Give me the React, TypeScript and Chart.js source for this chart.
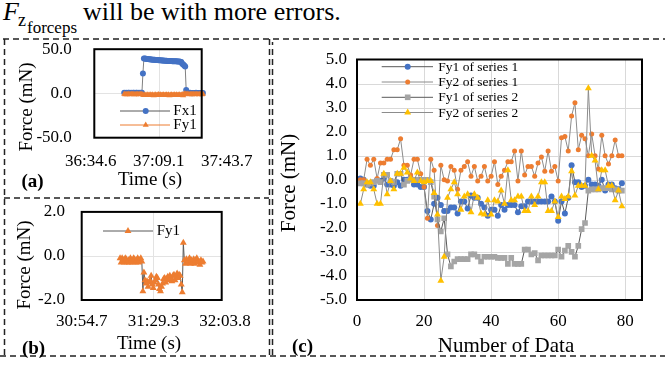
import React, { useEffect, useRef } from 'react';
import { Chart, registerables } from 'chart.js';

Chart.register(...registerables);

const SERIF = "'Liberation Serif', 'Times New Roman', serif";

// ---------------- panel (a) data ----------------
const A_X_TICKS = ['36:34.6', '37:09.1', '37:43.7'];
const A_Y_TICKS = [-50, 0, 50];
const A_FIRST_SAMPLE = '36:51.6';
const A_SAMPLE_PERIOD = 0.5;
const A_LABELS = ['Fx1', 'Fy1'];
const A_FX1 = [
  0.9, 0.6, 0.8, 0.5, 0.7, 0.9, 0.6, 0.8, 0.5, 0.7, 0.8, 0.6, 0.9, 0.7, 0.5, 0.8, 0.6, 0.7, 0.8,
  22.5,
  39.5, 39.6, 39.2, 39.0, 38.9, 38.7, 38.6, 38.4, 38.5, 38.2, 38.1, 38.0, 37.9, 37.8, 37.8, 37.6,
  37.5, 37.5, 37.3, 37.2, 37.2, 37.0, 37.0, 36.9, 36.8, 36.8, 36.7, 36.6, 36.6, 36.5, 36.5, 36.4,
  36.3, 36.3, 36.2, 36.2, 36.0, 35.8, 35.5, 33.5, 32.8, 31.5, 30.5,
  4.0, 1.2,
  0.6, 0.4, 0.7, 0.5, 0.3, 0.6, 0.5, 0.4, 0.7, 0.5, 0.6, 0.4, 0.5, 0.3, 0.6, 0.5,
];
const A_FY1 = [
  -0.6, -1.1, -0.8, -1.3, -0.5, -0.9, -1.2, -0.7, -1.0, -0.6,
  -1.3, -0.8, -1.1, -0.5, -0.9, -1.2, -0.7, -1.0, -0.8, -1.4,
  -1.9, -1.6, -2.1, -1.8, -1.5, -2.0, -1.7, -1.4, -1.9, -1.6,
  -2.2, -1.8, -1.5, -2.0, -1.7, -1.3, -1.9, -1.6, -2.1, -1.8,
  -1.4, -2.0, -1.7, -1.5, -1.9, -1.6, -2.2, -1.8, -1.5, -2.0,
  -1.7, -1.4, -1.9, -1.6, -2.0, -1.8, -1.5, -1.9, -1.7, -1.3,
  -2.4, -0.4, -0.7, -1.0, -0.6, -0.9, -1.2, -0.8, -0.5, -1.1,
  -0.7, -0.9, -1.3, -0.6, -1.0, -0.8, -1.2, -0.5, -0.9, -1.1,
  -0.7,
];

// ---------------- panel (b) data ----------------
const B_X_TICKS = ['30:54.7', '31:29.3', '32:03.8'];
const B_Y_TICKS = [-2, 0, 2];
const B_FIRST_SAMPLE = '31:13.2';
const B_SAMPLE_PERIOD = 0.5;
const B_LABELS = ['Fy1'];
const B_FY1 = [
  -0.1, -0.3, -0.1, -0.2, -0.3, -0.1, -0.15, -0.3, -0.2, -0.3, -0.1, -0.2, -0.3, -0.1, -0.15,
  -0.3, -0.2, -0.1, -0.3, -0.2, -0.1, -0.25,
  -1.6, -0.75, -1.1, -1.25, -1.15, -1.4, -1.2, -1.1, -0.9, -1.3, -1.45, -1.2, -1.1, -0.95, -1.0,
  -1.3, -1.5, -1.6, -1.4, -1.25, -1.05, -1.0, -1.2, -1.05, -0.95, -1.1, -0.9, -1.0, -1.15, -0.9,
  -0.85, -1.1, -0.95, -0.8, -1.0, -0.85, -0.9, -1.3,
  -1.65, 0.6,
  -0.2, -0.35, -0.15, -0.3, -0.2, -0.1, -0.35, -0.2, -0.3, -0.15, -0.35, -0.2, -0.1, -0.3, -0.25,
  -0.4, -0.2, -0.3, -0.25,
];

// ---------------- panel (c) data ----------------
const C_X_TICKS = [0, 20, 40, 60, 80];
const C_X_MAX = 85;
const C_Y_TICKS = [-5, -4, -3, -2, -1, 0, 1, 2, 3, 4, 5];
const C_LABELS = ['Fy1 of series 1', 'Fy2 of series 1', 'Fy1 of series 2', 'Fy2 of series 2'];
const C_FY1_S1 = [
  0.05, 0.0, -0.2, -0.25, -0.25, 0.0, -0.05, 0.05, -0.2, -0.2,
  -0.25, -0.1, -0.25, 0.0, 0.0, 0.05, -0.2, -0.2, -0.3, -0.3,
  -1.3, -1.65, -1.0, -0.75, -1.05, -1.3, -1.3, -1.15, -1.15, -1.4,
  -0.9, -0.9, -1.2, -0.65, -0.75, -0.75, -1.0, -1.15, -1.5, -1.25,
  -1.25, -1.5, -1.05, -1.25, -1.05, -1.05, -1.05, -1.35, -1.1, -1.1,
  -0.9, -0.9, -0.9, -0.9, -0.9, -0.9, -0.9, -0.7, -0.9, -1.7,
  -0.9, -1.4, -0.75, 0.6, -0.1, -0.1, -0.3, -0.25, 0.0, -0.2,
  -0.2, -0.25, 0.0, -0.45, -0.2, -0.2, -0.35, -0.4, -0.15,
];
const C_FY2_S1 = [
  0.0, 0.0, 0.85, 0.6, 0.85, 0.05, 0.7, 0.7, 0.85, 0.85,
  1.25, 1.25, 1.7, 0.6, 0.6, 0.2, 0.85, 0.85, 0.25, -0.3,
  -1.6, 0.85, 0.4, -1.9, 0.6, 0.0, -0.05, 0.55, 0.4, -0.4,
  0.4, 0.55, 0.75, 0.15, 0.55, -0.05, 0.15, 0.55, -0.05, 0.15,
  0.75, -0.2, 0.15, 0.4, 0.75, 0.75, 1.2, -0.05, 1.2, 0.2,
  0.55, 0.55, 0.15, 0.7, 0.95, 0.35, 1.2, 0.35, 0.55, -0.05,
  1.75, 1.8, 1.2, 2.65, 3.2, 1.25, 1.85, 1.7, 1.0, 1.9,
  1.0, 0.45, 1.85, 1.0, 0.65, 1.0, 1.65, 1.0, 1.0,
];
const C_FY1_S2 = [
  -0.15, -0.15, -0.2, -0.15, -0.1, -0.05, -0.1, 0.2, 0.2, -0.05,
  -0.1, 0.25, 0.25, -0.2, -0.05, 0.0, 0.0, 0.0, 0.0, 0.0,
  0.0, -0.1, -0.7, -1.65, -2.15, -1.6, -3.1, -3.6, -3.4, -3.3,
  -3.3, -3.3, -3.3, -3.1, -3.1, -3.2, -3.4, -3.2, -3.2, -3.2,
  -3.2, -3.25, -3.25, -3.25, -3.5, -3.25, -3.5, -3.5, -3.5, -2.9,
  -2.9, -3.1, -3.05, -3.35, -3.15, -3.15, -3.15, -3.15, -3.15, -2.9,
  -3.2, -2.95, -2.75, -3.0, -3.2, -2.75, -2.05, -1.8, -0.45, -0.4,
  -0.4, -0.4, -0.35, -0.35, -0.35, -0.4, -0.4, -0.45, -0.45,
];
const C_FY2_S2 = [
  -1.0, -0.4, -0.1, -0.1, -0.4, -1.0, -1.0, 0.25, -0.6, -0.05,
  -0.4, 0.25, 0.25, 0.5, 0.3, 0.05, -0.05, 0.3, -0.05, -0.1,
  -0.05, -0.05, -0.55, -1.45, -4.2, -3.2, -0.75, -0.4, -0.1, -0.6,
  -1.25, -0.7, -0.6, -1.35, -0.6, -0.75, -1.4, -1.45, -0.85, -1.45,
  -0.85, -0.9, -0.45, -1.0, 0.4, -0.85, -0.85, -0.7, -0.7, -1.3,
  -1.3, -0.7, -1.05, -0.7, -0.1, -0.1, -1.3, -1.3, -0.9, -1.55,
  -0.7, -0.8, -0.7, 0.35, -0.65, -0.25, -0.25, -0.25, 3.8, 1.0,
  0.8, -0.4, 0.4, 0.4, -0.25, -0.25, -0.85, -0.45, -1.1,
];

// ---------------- colours ----------------
const BLUE = '#4472C4';
const ORANGE = '#ED7D31';
const GRAY = '#A5A5A5';
const YELLOW = '#FFC000';
const DARK_LINE = '#595959';
const MID_LINE = '#8c8c8c';

// ---------------- helpers ----------------
const toSec = (s: string) => {
  const [m, r] = s.split(':');
  return Number(m) * 60 + Number(r);
};
const fmtTime = (v: number) => {
  const m = Math.floor((v + 1e-6) / 60);
  const s = v - m * 60;
  return `${m}:${s.toFixed(1).padStart(4, '0')}`;
};
const timeSeries = (first: string, period: number, ys: number[]) =>
  ys.map((y, i) => ({ x: toSec(first) + i * period, y }));
const indexSeries = (ys: number[]) => ys.map((y, i) => ({ x: i + 1, y }));

type Style = 'circle' | 'triangle' | 'rect';
interface LegendItem { label: string; line: string; style: Style; color: string; radius: number; }
interface LegendSpec { rows: number[]; lineFrom: number; lineTo: number; marker: number; text: number; size: number; items: LegendItem[]; }
interface Box { left: number; top: number; width: number; height: number; }
interface Plot { l: number; t: number; r: number; b: number; }

function drawMarker(ctx: CanvasRenderingContext2D, style: Style, x: number, y: number, r: number, color: string) {
  ctx.fillStyle = color;
  ctx.beginPath();
  if (style === 'circle') {
    ctx.arc(x, y, r, 0, Math.PI * 2);
  } else if (style === 'triangle') {
    const a = (2 * Math.PI) / 3;
    ctx.moveTo(x, y - r);
    ctx.lineTo(x + r * Math.sin(a), y - r * Math.cos(a));
    ctx.lineTo(x + r * Math.sin(2 * a), y - r * Math.cos(2 * a));
    ctx.closePath();
  } else {
    const s = r * Math.SQRT1_2;
    ctx.rect(x - s, y - s, 2 * s, 2 * s);
  }
  ctx.fill();
}

function makeFrame(origin: Box, frame: { boxPx?: [number, number]; gridX: number[]; gridY: number[]; gridColor: string; legend: LegendSpec }) {
  const bounds = (chart: any) => {
    const a = chart.chartArea;
    const l = frame.boxPx ? frame.boxPx[0] - origin.left : a.left;
    const r = frame.boxPx ? frame.boxPx[1] - origin.left : a.right;
    return { l, r, t: a.top, b: a.bottom };
  };
  return {
    id: 'frame',
    beforeDatasetsDraw(chart: any) {
      const ctx: CanvasRenderingContext2D = chart.ctx;
      const { l, r, t, b } = bounds(chart);
      const xs = chart.scales.x;
      const ys = chart.scales.y;
      ctx.save();
      ctx.strokeStyle = frame.gridColor;
      ctx.lineWidth = 1;
      ctx.beginPath();
      for (const v of frame.gridX) {
        const p = Math.round(xs.getPixelForValue(v)) + 0.5;
        if (p > l + 1.5 && p < r - 1.5) { ctx.moveTo(p, t); ctx.lineTo(p, b); }
      }
      for (const v of frame.gridY) {
        const p = Math.round(ys.getPixelForValue(v)) + 0.5;
        if (p > t + 1.5 && p < b - 1.5) { ctx.moveTo(l, p); ctx.lineTo(r, p); }
      }
      ctx.stroke();
      ctx.restore();
    },
    afterDatasetsDraw(chart: any) {
      const ctx: CanvasRenderingContext2D = chart.ctx;
      const { l, r, t, b } = bounds(chart);
      ctx.save();
      ctx.strokeStyle = '#000';
      ctx.lineWidth = 2;
      ctx.strokeRect(l, t, r - l, b - t);
      const lg = frame.legend;
      ctx.font = `${lg.size}px ${SERIF}`;
      ctx.textBaseline = 'middle';
      ctx.textAlign = 'left';
      lg.items.forEach((it, i) => {
        const y = lg.rows[i] - origin.top;
        ctx.strokeStyle = it.line;
        ctx.lineWidth = 1;
        ctx.beginPath();
        ctx.moveTo(lg.lineFrom - origin.left, y);
        ctx.lineTo(lg.lineTo - origin.left, y);
        ctx.stroke();
        drawMarker(ctx, it.style, lg.marker - origin.left, y, it.radius, it.color);
        ctx.fillStyle = '#000';
        ctx.fillText(it.label, lg.text - origin.left, y + 0.5);
      });
      ctx.restore();
    },
  };
}

interface PanelSpec {
  canvas: Box;
  plot: Plot;
  xMin: number; xMax: number; xTicks: number[]; xFmt: (v: number) => string;
  yMin: number; yMax: number; yTicks: number[];
  tickSize: number; xPad: number; yPad: number;
  datasets: any[];
  frame: { boxPx?: [number, number]; gridX: number[]; gridY: number[]; gridColor: string; legend: LegendSpec };
}

function panelConfig(p: PanelSpec): any {
  const c = p.canvas;
  const q = p.plot;
  const tickFont = { size: p.tickSize, family: SERIF };
  return {
    type: 'line',
    data: { datasets: p.datasets },
    options: {
      responsive: false,
      animation: false,
      events: [],
      layout: { padding: { left: 0, top: q.t - c.top, right: c.left + c.width - q.r, bottom: 0 } },
      plugins: { legend: { display: false }, tooltip: { enabled: false } },
      elements: { line: { tension: 0 } },
      scales: {
        x: {
          type: 'linear', min: p.xMin, max: p.xMax,
          afterBuildTicks: (s: any) => { s.ticks = p.xTicks.map((value) => ({ value })); },
          afterFit: (s: any) => { s.height = c.top + c.height - q.b; },
          grid: { display: false, drawTicks: false },
          border: { display: false },
          ticks: { font: tickFont, color: '#000', padding: p.xPad, maxRotation: 0, autoSkip: false, callback: (v: any) => p.xFmt(Number(v)) },
        },
        y: {
          type: 'linear', min: p.yMin, max: p.yMax,
          afterBuildTicks: (s: any) => { s.ticks = p.yTicks.map((value) => ({ value })); },
          afterFit: (s: any) => { s.width = q.l - c.left; },
          grid: { display: false, drawTicks: false },
          border: { display: false },
          ticks: { font: tickFont, color: '#000', padding: p.yPad, autoSkip: false, callback: (v: any) => Number(v).toFixed(1) },
        },
      },
    },
    plugins: [makeFrame(c, p.frame)],
  };
}

const lineDs = (label: string, data: any[], line: string, style: Style, color: string, radius: number, order: number) => ({
  label, data, order,
  borderColor: line, borderWidth: 1,
  pointStyle: style, pointRadius: radius,
  pointBackgroundColor: color, pointBorderColor: color, pointBorderWidth: 0,
  fill: false,
});

// ---------------- layout ----------------
const A_CANVAS: Box = { left: 0, top: 20, width: 268, height: 170 };
const A_PLOT: Plot = { l: 90.8, t: 49, r: 226.7, b: 137.7 };
const B_CANVAS: Box = { left: 0, top: 185, width: 268, height: 170 };
const B_PLOT: Plot = { l: 81.7, t: 210, r: 225, b: 300 };
const C_CANVAS: Box = { left: 274, top: 30, width: 391, height: 305 };
const C_PLOT: Plot = { l: 357, t: 59.5, r: 642, b: 300 };

function specs(): PanelSpec[] {
  const aTicks = A_X_TICKS.map(toSec);
  const bTicks = B_X_TICKS.map(toSec);
  const a: PanelSpec = {
    canvas: A_CANVAS, plot: A_PLOT,
    xMin: aTicks[0], xMax: aTicks[aTicks.length - 1], xTicks: aTicks, xFmt: fmtTime,
    yMin: A_Y_TICKS[0], yMax: A_Y_TICKS[A_Y_TICKS.length - 1], yTicks: A_Y_TICKS,
    tickSize: 17, xPad: 13.5, yPad: 19,
    datasets: [
      lineDs(A_LABELS[0], timeSeries(A_FIRST_SAMPLE, A_SAMPLE_PERIOD, A_FX1), '#808080', 'circle', BLUE, 3, 1),
      lineDs(A_LABELS[1], timeSeries(A_FIRST_SAMPLE, A_SAMPLE_PERIOD, A_FY1), ORANGE, 'triangle', ORANGE, 3.5, 0),
    ],
    frame: {
      boxPx: [94.3, 201.7], gridX: aTicks, gridY: A_Y_TICKS, gridColor: '#e3e3e3',
      legend: {
        rows: [111, 125], lineFrom: 120, lineTo: 170, marker: 145.7, text: 173.3, size: 15,
        items: [
          { label: A_LABELS[0], line: DARK_LINE, style: 'circle', color: BLUE, radius: 3 },
          { label: A_LABELS[1], line: ORANGE, style: 'triangle', color: ORANGE, radius: 3.5 },
        ],
      },
    },
  };
  const b: PanelSpec = {
    canvas: B_CANVAS, plot: B_PLOT,
    xMin: bTicks[0], xMax: bTicks[bTicks.length - 1], xTicks: bTicks, xFmt: fmtTime,
    yMin: B_Y_TICKS[0], yMax: B_Y_TICKS[B_Y_TICKS.length - 1], yTicks: B_Y_TICKS,
    tickSize: 17, xPad: 11.5, yPad: 16.7,
    datasets: [
      lineDs(B_LABELS[0], timeSeries(B_FIRST_SAMPLE, B_SAMPLE_PERIOD, B_FY1), DARK_LINE, 'triangle', ORANGE, 4, 0),
    ],
    frame: {
      boxPx: [81.7, 221.7], gridX: bTicks, gridY: B_Y_TICKS, gridColor: '#e3e3e3',
      legend: {
        rows: [231], lineFrom: 103, lineTo: 153, marker: 128, text: 156.7, size: 15,
        items: [{ label: B_LABELS[0], line: DARK_LINE, style: 'triangle', color: ORANGE, radius: 4 }],
      },
    },
  };
  const c: PanelSpec = {
    canvas: C_CANVAS, plot: C_PLOT,
    xMin: 0, xMax: C_X_MAX, xTicks: C_X_TICKS, xFmt: (v) => String(v),
    yMin: C_Y_TICKS[0], yMax: C_Y_TICKS[C_Y_TICKS.length - 1], yTicks: C_Y_TICKS,
    tickSize: 17, xPad: 11.5, yPad: 10,
    datasets: [
      lineDs(C_LABELS[0], indexSeries(C_FY1_S1), DARK_LINE, 'circle', BLUE, 3, 3),
      lineDs(C_LABELS[1], indexSeries(C_FY2_S1), MID_LINE, 'circle', ORANGE, 2.5, 2),
      lineDs(C_LABELS[2], indexSeries(C_FY1_S2), DARK_LINE, 'rect', GRAY, 4, 1),
      lineDs(C_LABELS[3], indexSeries(C_FY2_S2), MID_LINE, 'triangle', YELLOW, 4, 0),
    ],
    frame: {
      gridX: C_X_TICKS, gridY: C_Y_TICKS, gridColor: '#d9d9d9',
      legend: {
        rows: [66.7, 82, 97.3, 112.5], lineFrom: 381.7, lineTo: 433, marker: 407.7, text: 438.3, size: 13.5,
        items: [
          { label: C_LABELS[0], line: DARK_LINE, style: 'circle', color: BLUE, radius: 3 },
          { label: C_LABELS[1], line: MID_LINE, style: 'circle', color: ORANGE, radius: 2.5 },
          { label: C_LABELS[2], line: DARK_LINE, style: 'rect', color: GRAY, radius: 4 },
          { label: C_LABELS[3], line: MID_LINE, style: 'triangle', color: YELLOW, radius: 4 },
        ],
      },
    },
  };
  return [a, b, c];
}

const Centered = ({ x, y, size, bold, rotate, children }: any) => (
  <div
    style={{
      position: 'absolute', left: x, top: y, fontSize: size, fontWeight: bold ? 700 : 400,
      lineHeight: 1, whiteSpace: 'nowrap',
      transform: `translate(-50%, -50%)${rotate ? ' rotate(-90deg)' : ''}`,
    }}
  >
    {children}
  </div>
);

const Base = ({ x, baseline, size, italic, children }: any) => (
  <span
    style={{
      position: 'absolute', left: x, top: baseline - 0.8375 * size, fontSize: size,
      lineHeight: 1, whiteSpace: 'nowrap', fontStyle: italic ? 'italic' : 'normal',
    }}
  >
    {children}
  </span>
);

export default function App() {
  const refA = useRef<HTMLCanvasElement>(null);
  const refB = useRef<HTMLCanvasElement>(null);
  const refC = useRef<HTMLCanvasElement>(null);

  useEffect(() => {
    Chart.defaults.font.family = SERIF;
    Chart.defaults.color = '#000';
    const [a, b, c] = specs();
    const charts = [
      new Chart(refA.current as HTMLCanvasElement, panelConfig(a)),
      new Chart(refB.current as HTMLCanvasElement, panelConfig(b)),
      new Chart(refC.current as HTMLCanvasElement, panelConfig(c)),
    ];
    return () => charts.forEach((ch) => ch.destroy());
  }, []);

  const canvasStyle = (b: Box): React.CSSProperties => ({
    position: 'absolute', left: b.left, top: b.top, width: b.width, height: b.height,
  });

  return (
    <div
      style={{
        position: 'fixed', left: 0, top: 0, width: 665, height: 366, background: '#fff',
        overflow: 'hidden', fontFamily: SERIF, color: '#000',
      }}
    >
      <Base x={3} baseline={21} size={26} italic>F</Base>
      <Base x={18} baseline={26} size={18}>z</Base>
      <Base x={27} baseline={33} size={17}>forceps</Base>
      <Base x={83} baseline={21} size={26}>will be with more errors.</Base>

      <canvas ref={refA} width={A_CANVAS.width} height={A_CANVAS.height} style={canvasStyle(A_CANVAS)} />
      <canvas ref={refB} width={B_CANVAS.width} height={B_CANVAS.height} style={canvasStyle(B_CANVAS)} />
      <canvas ref={refC} width={C_CANVAS.width} height={C_CANVAS.height} style={canvasStyle(C_CANVAS)} />

      <svg width={665} height={366} style={{ position: 'absolute', left: 0, top: 0, pointerEvents: 'none' }}>
        <g stroke="#222" strokeWidth={1.5} strokeDasharray="6 4" fill="none">
          <line x1={3} y1={39} x2={665} y2={39} />
          <line x1={4.5} y1={39} x2={4.5} y2={356} />
          <line x1={4} y1={198} x2={269} y2={198} />
          <line x1={269.5} y1={39} x2={269.5} y2={356} />
          <line x1={272.5} y1={42} x2={272.5} y2={356} strokeDashoffset={3} />
          <line x1={0} y1={356} x2={665} y2={356} />
        </g>
      </svg>

      <Centered x={25} y={107} size={19} rotate>Force (mN)</Centered>
      <Centered x={150} y={178} size={19}>Time (s)</Centered>
      <Centered x={32.5} y={180} size={19} bold>(a)</Centered>

      <Centered x={23} y={264.7} size={19} rotate>Force (mN)</Centered>
      <Centered x={149} y={341.7} size={19}>Time (s)</Centered>
      <Centered x={33.5} y={346.5} size={19} bold>(b)</Centered>

      <Centered x={288} y={183} size={21} rotate>Force (mN)</Centered>
      <Centered x={506} y={345} size={21}>Number of Data</Centered>
      <Centered x={302.5} y={345} size={19} bold>(c)</Centered>
    </div>
  );
}
